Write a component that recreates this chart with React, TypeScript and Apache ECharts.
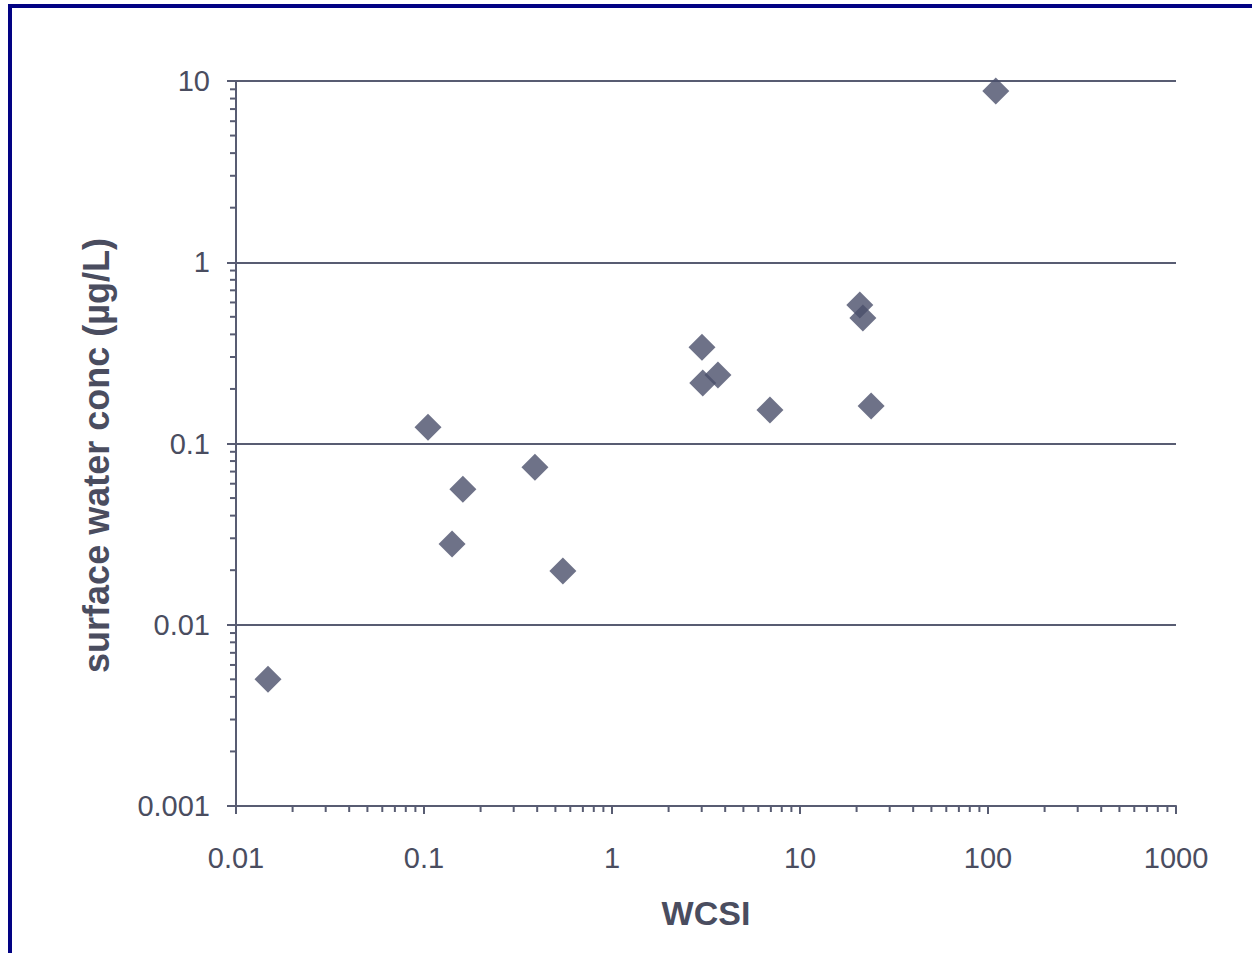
import React, { useEffect, useRef } from "react";
import * as echarts from "echarts";

const wcsi = [0.0148, 0.105, 0.141, 0.161, 0.389, 0.548, 3.01, 3.04, 3.66, 6.92, 20.8, 21.6, 23.9, 110];
const conc = [0.005, 0.123, 0.0279, 0.056, 0.074, 0.0198, 0.34, 0.216, 0.239, 0.153, 0.581, 0.492, 0.161, 8.8];

const xMin = 0.01;
const xMax = 1000;
const yMin = 0.001;
const yMax = 10;

const xMinorTicks = [
  0.02, 0.03, 0.04, 0.05, 0.06, 0.07, 0.08, 0.09,
  0.2, 0.3, 0.4, 0.5, 0.6, 0.7, 0.8, 0.9,
  2, 3, 4, 5, 6, 7, 8, 9,
  20, 30, 40, 50, 60, 70, 80, 90,
  200, 300, 400, 500, 600, 700, 800, 900,
];
const yMinorTicks = [
  0.002, 0.003, 0.004, 0.005, 0.006, 0.007, 0.008, 0.009,
  0.02, 0.03, 0.04, 0.05, 0.06, 0.07, 0.08, 0.09,
  0.2, 0.3, 0.4, 0.5, 0.6, 0.7, 0.8, 0.9,
  2, 3, 4, 5, 6, 7, 8, 9,
];

const axisColor = "#585c72";
const textColor = "#4a4d5f";
const markColor = "#4a4f6a";
const fontFamily = "Liberation Sans, Arial, Helvetica, sans-serif";

const fmt = (v: number) => String(Number(v.toPrecision(6)));

export default function App() {
  const ref = useRef<HTMLDivElement>(null);
  useEffect(() => {
    if (!ref.current) return;
    const chart = echarts.init(ref.current, undefined, { renderer: "svg" });
    chart.setOption({
      animation: false,
      backgroundColor: "#ffffff",
      textStyle: { fontFamily },
      graphic: [
        {
          type: "rect",
          shape: { x: 10, y: 6, width: 1300, height: 1000 },
          style: { fill: "none", stroke: "#020283", lineWidth: 4 },
          silent: true,
        },
      ],
      grid: { left: 236, right: 76, top: 81, bottom: 147, containLabel: false },
      xAxis: {
        type: "log",
        logBase: 10,
        min: xMin,
        max: xMax,
        name: "WCSI",
        nameLocation: "middle",
        nameGap: 90,
        nameTextStyle: { fontSize: 34, fontWeight: "bold", color: textColor, fontFamily },
        axisLine: { show: true, lineStyle: { color: axisColor, width: 2 } },
        axisTick: { show: true, length: 8, lineStyle: { color: axisColor, width: 2 } },
        minorTick: { show: false },
        axisLabel: {
          formatter: fmt,
          fontSize: 29,
          color: textColor,
          margin: 37,
          fontFamily,
        },
        splitLine: { show: false },
      },
      yAxis: {
        type: "log",
        logBase: 10,
        min: yMin,
        max: yMax,
        name: "surface water conc (µg/L)",
        nameLocation: "middle",
        nameGap: 122,
        nameRotate: 90,
        nameTextStyle: {
          fontSize: 36,
          fontWeight: "bold",
          color: textColor,
          fontFamily,
          padding: [0, 24, 0, 0],
        },
        axisLine: { show: true, lineStyle: { color: axisColor, width: 2 } },
        axisTick: { show: true, length: 9, lineStyle: { color: axisColor, width: 2 } },
        minorTick: { show: false },
        axisLabel: {
          formatter: fmt,
          fontSize: 29,
          color: textColor,
          margin: 26,
          fontFamily,
        },
        splitLine: { show: true, lineStyle: { color: axisColor, width: 2 } },
      },
      series: [
        {
          type: "custom",
          silent: true,
          clip: false,
          data: xMinorTicks.map((v) => [v, yMin]),
          renderItem: (params: any, api: any) => {
            const p = api.coord([api.value(0), api.value(1)]);
            return {
              type: "line",
              shape: { x1: p[0], y1: p[1], x2: p[0], y2: p[1] + 6 },
              style: { stroke: axisColor, lineWidth: 2 },
            };
          },
          z: 1,
        },
        {
          type: "custom",
          silent: true,
          clip: false,
          data: yMinorTicks.map((v) => [xMin, v]),
          renderItem: (params: any, api: any) => {
            const p = api.coord([api.value(0), api.value(1)]);
            return {
              type: "line",
              shape: { x1: p[0] - 6, y1: p[1], x2: p[0], y2: p[1] },
              style: { stroke: axisColor, lineWidth: 2 },
            };
          },
          z: 1,
        },
        {
          type: "scatter",
          symbol: "diamond",
          symbolSize: 27,
          itemStyle: { color: markColor },
          data: wcsi.map((x, i) => [x, conc[i]]),
          z: 3,
        },
      ],
    });
    return () => chart.dispose();
  }, []);
  return (
    <div
      ref={ref}
      style={{ position: "absolute", left: 0, top: 0, width: 1252, height: 953 }}
    />
  );
}
